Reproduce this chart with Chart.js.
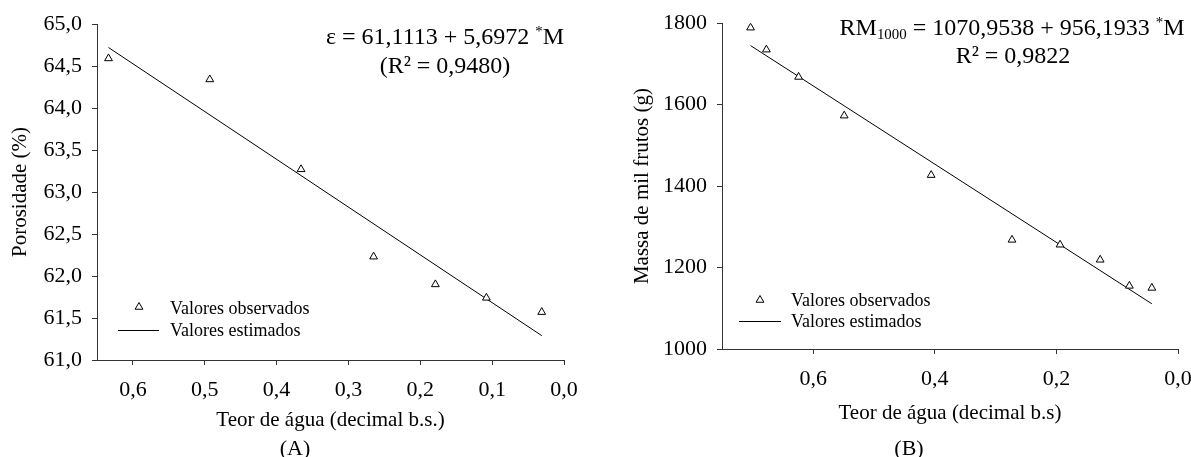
<!DOCTYPE html>
<html>
<head>
<meta charset="utf-8">
<script src="https://cdn.jsdelivr.net/npm/chart.js@4.4.1/dist/chart.umd.min.js"></script>
<style>
html, body { margin: 0; padding: 0; background: #fff; overflow: hidden; width: 1191px; height: 457px; }
body { position: relative; font-family: 'Liberation Serif', 'Times New Roman', serif; color: #000; }
canvas { position: absolute; top: 0; }
#chartA { left: 0; }
#chartB { left: 595px; }
.txt { position: absolute; white-space: nowrap; }
.c { transform: translateX(-50%); }
.eq { font-size: 24px; line-height: 28px; }
.leg { font-size: 18px; line-height: 22px; }
.panel { font-size: 22px; line-height: 26px; }
sup { font-size: 0.62em; vertical-align: 0.55em; line-height: 0; }
sub { font-size: 0.62em; vertical-align: -0.3em; line-height: 0; }
.legLine { position: absolute; height: 0; border-top: 1px solid #000; }
</style>
</head>
<body>
<canvas id="chartA" width="595" height="457"></canvas>
<canvas id="chartB" width="616" height="457"></canvas>

<div class="txt c eq" style="left:445px;top:22px;">ε = 61,1113 + 5,6972 <sup>*</sup>M</div>
<div class="txt c eq" style="left:445px;top:51px;">(R² = 0,9480)</div>
<div class="txt c eq" style="left:1012px;top:13px;">RM<sub>1000</sub> = 1070,9538 + 956,1933 <sup>*</sup>M</div>
<div class="txt c eq" style="left:1013px;top:41px;">R² = 0,9822</div>

<svg class="txt" style="left:133px;top:301px;" width="12" height="12"><polygon points="6,1.5 2.1,8.25 9.9,8.25" fill="#fff" stroke="#000" stroke-width="1"/></svg>
<div class="txt leg" style="left:170px;top:297px;">Valores observados</div>
<div class="legLine" style="left:118px;top:330px;width:41px;"></div>
<div class="txt leg" style="left:170px;top:319px;">Valores estimados</div>

<svg class="txt" style="left:754px;top:294px;" width="12" height="12"><polygon points="6,1.5 2.1,8.25 9.9,8.25" fill="#fff" stroke="#000" stroke-width="1"/></svg>
<div class="txt leg" style="left:791px;top:289px;">Valores observados</div>
<div class="legLine" style="left:739px;top:321px;width:42px;"></div>
<div class="txt leg" style="left:791px;top:310px;">Valores estimados</div>

<div class="txt c panel" style="left:295px;top:435px;">(A)</div>
<div class="txt c panel" style="left:909px;top:435px;">(B)</div>

<script>
// (A) porosidade
const porosMoisture = [0.634, 0.493, 0.366, 0.265, 0.179, 0.108, 0.031];
const porosObserved = [64.59, 64.34, 63.27, 62.23, 61.90, 61.74, 61.57];
const porosFitX = [0.634, 0.031];
const porosFitY = [64.72, 61.29];
const porosXTicks = [0.6, 0.5, 0.4, 0.3, 0.2, 0.1, 0.0];
const porosYTicks = [61.0, 61.5, 62.0, 62.5, 63.0, 63.5, 64.0, 64.5, 65.0];

// (B) massa de mil frutos
const massMoisture = [0.703, 0.677, 0.624, 0.549, 0.406, 0.273, 0.194, 0.128, 0.080, 0.043];
const massObserved = [1789, 1735, 1668, 1573, 1427, 1268, 1256, 1219, 1155, 1150];
const massFitX = [0.703, 0.043];
const massFitY = [1745, 1111];
const massXTicks = [0.6, 0.4, 0.2, 0.0];
const massYTicks = [1000, 1200, 1400, 1600, 1800];

Chart.defaults.font.family = "'Liberation Serif', 'Times New Roman', serif";
Chart.defaults.color = '#000';

const comma = v => v.toFixed(1).replace('.', ',');
const pts = (xs, ys) => xs.map((x, i) => ({x: x, y: ys[i]}));

function axis(opts) {
    return {
        type: 'linear',
        position: opts.position,
        reverse: !!opts.reverse,
        min: opts.min,
        max: opts.max,
        afterBuildTicks: s => { s.ticks = opts.ticks.map(v => ({value: v})); },
        afterFit: s => {
            if (opts.width) s.width = opts.width;
            if (opts.height) s.height = opts.height;
            s.paddingLeft = 0;
            s.paddingRight = 0;
        },
        ticks: {
            callback: opts.fmt,
            padding: opts.padding,
            font: {size: 22},
            color: '#000',
            maxRotation: 0,
            autoSkip: false
        },
        grid: {drawOnChartArea: false, tickLength: 5, color: '#333'},
        border: {color: '#333'},
        title: {display: true, text: opts.title, font: {size: 21}, color: '#000', padding: {top: 4, bottom: 4}}
    };
}

function makeChart(id, obs, fit, pad, xAxis, yAxis) {
    return new Chart(document.getElementById(id), {
        type: 'scatter',
        data: {
            datasets: [{
                type: 'scatter',
                data: obs,
                pointStyle: 'triangle',
                pointRadius: 4.5,
                backgroundColor: '#fff',
                borderColor: '#000',
                borderWidth: 1,
                order: 0
            }, {
                type: 'line',
                data: fit,
                borderColor: '#000',
                borderWidth: 1,
                pointRadius: 0,
                fill: false,
                order: 1
            }]
        },
        options: {
            responsive: false,
            animation: false,
            layout: {padding: pad},
            plugins: {legend: {display: false}, tooltip: {enabled: false}},
            scales: {x: xAxis, y: yAxis}
        }
    });
}

makeChart('chartA',
    pts(porosMoisture, porosObserved),
    pts(porosFitX, porosFitY),
    {left: 4, right: 31, top: 24, bottom: 20},
    axis({position: 'bottom', reverse: true, min: 0, max: 0.65, ticks: porosXTicks, fmt: comma, padding: 12, height: 77, title: 'Teor de água (decimal b.s.)'}),
    axis({position: 'left', min: 61, max: 65, ticks: porosYTicks, fmt: comma, padding: 10, width: 93, title: 'Porosidade (%)'})
);

makeChart('chartB',
    pts(massMoisture, massObserved),
    pts(massFitX, massFitY),
    {left: 31, right: 33, top: 20, bottom: 27},
    axis({position: 'bottom', reverse: true, min: 0, max: 0.75, ticks: massXTicks, fmt: comma, padding: 12, height: 81, title: 'Teor de água (decimal b.s)'}),
    axis({position: 'left', min: 1000, max: 1800, ticks: massYTicks, fmt: v => String(v), padding: 10, width: 96, title: 'Massa de mil frutos (g)'})
);
</script>
</body>
</html>
